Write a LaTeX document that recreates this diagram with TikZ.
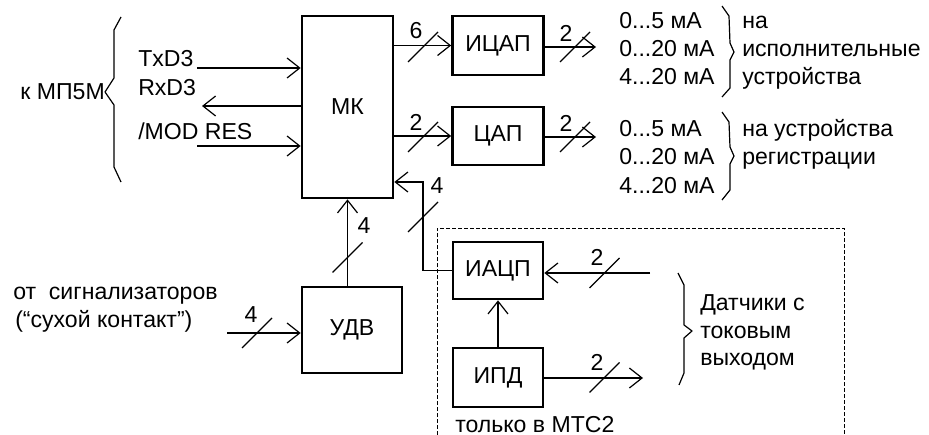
\documentclass[tikz,border=0pt]{standalone}
\usepackage{fontspec}
\setmainfont{Liberation Sans}
\usetikzlibrary{arrows.meta}
\tikzset{
  x=0.75pt, y=-0.75pt,
  every node/.style={font=\fontsize{17.3}{21}\selectfont, inner sep=0pt},
  blk/.style={draw, line width=2pt, rectangle},
  arr/.style={-{Straight Barb[length=9.5pt,width=15pt]}, line width=0.9pt},
  wire/.style={line width=0.9pt},
  slashline/.style={line width=0.9pt},
  bracel/.style={line width=0.9pt, line join=round},
  frame/.style={line width=0.6pt, dash pattern=on 3pt off 1.5pt},
  txt/.style={anchor=base west},
  num/.style={anchor=center}
}
\newcommand\slsh[1]{\draw[slashline] #1 ++(-15,15) -- ++(30,-30);}
\begin{document}
\begin{tikzpicture}
\useasboundingbox (0,0) rectangle (929,435);

% blocks
\node[blk, minimum width=68.25pt, minimum height=136.5pt] (mk) at (347.5,107) {МК};
\node[blk, minimum width=68.25pt, minimum height=44.25pt] (icap) at (498,45.5) {ИЦАП};
\node[blk, minimum width=68.25pt, minimum height=43.5pt] (cap) at (498,136) {ЦАП};
\node[blk, minimum width=67.5pt, minimum height=42.75pt] (iacp) at (498,270.5) {ИАЦП};
\node[blk, minimum width=67.5pt, minimum height=44.25pt] (ipd) at (498,377.5) {ИПД};
\node[blk, minimum width=75pt, minimum height=64.5pt] (udv) at (352,330) {УДВ};

% dashed frame
\draw[frame] (437,435) -- (437,228) -- (844,228) -- (844,435);

% free ends
\coordinate (tx) at (197,68);
\coordinate (rx) at (202,106);
\coordinate (mr) at (197,146);
\coordinate (o1) at (596,47);
\coordinate (o2) at (596,137);
\coordinate (fb) at (423,182);
\coordinate (din) at (227,333);
\coordinate (sin) at (650,273);
\coordinate (sout) at (643,378);

% left signals
\draw[arr] (tx) -- (tx -| mk.west);
\draw[arr] (rx -| mk.west) -- (rx);
\draw[arr] (mr) -- (mr -| mk.west);
\node[txt] (ttx) at (138,67) {TxD3};
\node[txt] (trx) at (138,96) {RxD3};
\node[txt] (tmr) at (138,139) {/MOD RES};
\node[anchor=base east] (tmp) at (105,100) {к МП5М};
\draw[bracel] (121,17) -- (114,30) -- (114,78) -- (105,92) -- (114,105) -- (114,167) -- (121,182);

% MK outputs
\draw[arr] (mk.east |- icap.west) -- (icap.west);
\draw[arr] (mk.east |- cap.west) -- (cap.west);
\slsh{(423,47)} \slsh{(423,137)}
\node[num] (n6) at (416,31) {6};
\node[num] (n2a) at (416,122) {2};

\draw[arr] (icap.east |- o1) -- (o1);
\draw[arr] (cap.east |- o2) -- (o2);
\slsh{(575,47)} \slsh{(575,137)}
\node[num] (n2b) at (566,33) {2};
\node[num] (n2c) at (566,123) {2};

% right texts
\node[txt] (r1) at (619,29) {0...5 мА};
\node[txt] (r2) at (619,57) {0...20 мА};
\node[txt] (r3) at (619,85) {4...20 мА};
\node[txt] (r4) at (619,137) {0...5 мА};
\node[txt] (r5) at (619,165) {0...20 мА};
\node[txt] (r6) at (619,193) {4...20 мА};
\draw[bracel] (722,6) -- (729,16) -- (730,43) -- (734,52) -- (730,60) -- (730,88) -- (722,97);
\draw[bracel] (722,112) -- (729,122) -- (730,147) -- (734,156) -- (730,164) -- (730,190) -- (722,200);
\node[txt] (a1) at (742,29) {на};
\node[txt] (a2) at (742,57) {исполнительные};
\node[txt] (a3) at (742,85) {устройства};
\node[txt] (b1) at (742,137) {на устройства};
\node[txt] (b2) at (742,165) {регистрации};

% feedback IACP -> MK
\draw[arr] (iacp.west) -| (fb) -- (fb -| mk.east);
\slsh{(423,217)}
\node[num] (n4a) at (437,186) {4};

% UDV
\draw[arr] (mk.south |- udv.north) -- (mk.south);
\slsh{(347.5,257.5)}
\node[num] (n4b) at (364,226) {4};
\draw[arr] (din) -- (din -| udv.west);
\slsh{(257,333)}
\node[num] (n4c) at (251,315) {4};
\node[txt] (s1) at (13,299) {от~~сигнализаторов};
\node[txt] (s2) at (15,327) {(“сухой контакт”)};

% sensors
\draw[arr] (sin) -- (sin -| iacp.east);
\draw[arr] (ipd.north) -- (iacp.south);
\draw[arr] (ipd.east |- sout) -- (sout);
\slsh{(604.5,273)} \slsh{(604.5,377.5)}
\node[num] (n2d) at (597,257) {2};
\node[num] (n2e) at (597,362) {2};
\draw[bracel] (678,273) -- (684,285) -- (684,325) -- (692,331) -- (684,338) -- (684,373) -- (679,385);
\node[txt] (d1) at (700,310) {Датчики с};
\node[txt] (d2) at (700,338) {токовым};
\node[txt] (d3) at (700,365) {выходом};
\node[txt] (only) at (455,432) {только в МТС2};
\end{tikzpicture}
\end{document}
